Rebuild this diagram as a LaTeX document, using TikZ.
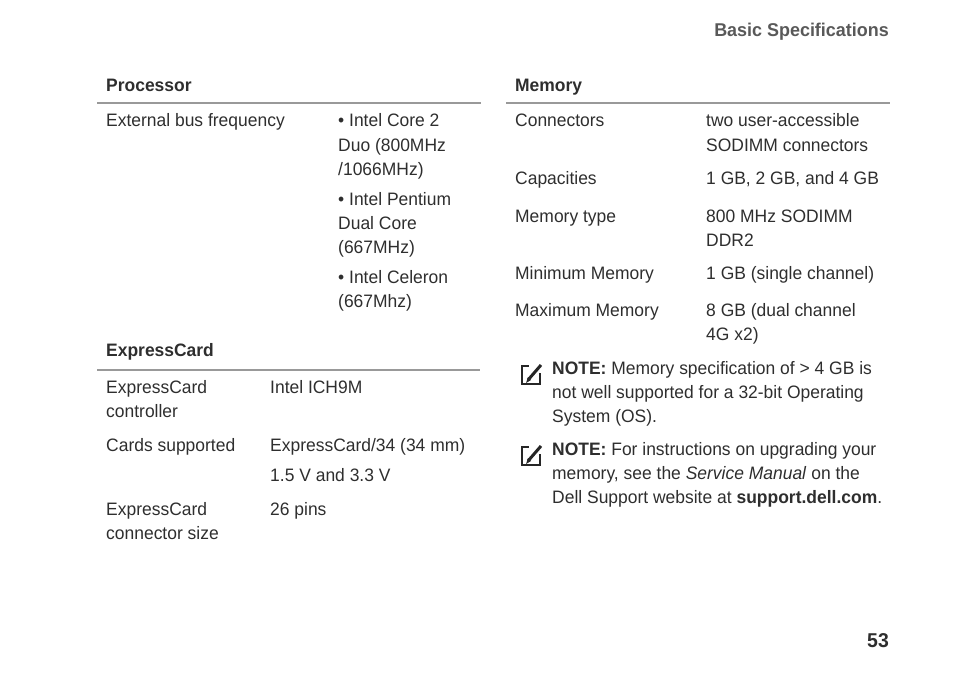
\documentclass[tikz,border=0pt]{standalone}
\usepackage{fontspec}
\setmainfont{Liberation Sans}[FakeStretch=0.97]
\begin{document}
\begin{tikzpicture}[x=1pt,y=-1pt,
  t/.style={anchor=base west,inner sep=0pt,text=black!82,font=\fontsize{18}{20}\selectfont},
  h/.style={t,font=\fontsize{18}{20}\selectfont\bfseries},
  rule/.style={draw=black!40,line width=1.2pt}]
\useasboundingbox (0,0) rectangle (954,677);
\node[t,anchor=base east,text=black!65,font=\fontsize{18.5}{20}\selectfont\bfseries] (hd) at (889,37) {Basic Specifications};
\node[t,anchor=base east,font=\fontsize{20}{22}\selectfont\bfseries] (pg) at (889,647) {53};
% Processor
\node[h] (p) at (106,92) {Processor};
\coordinate (p1) at (97,103); \coordinate (p2) at (481,103);
\draw[rule] (p1) -- (p2);
\node[t] (ebf) at (106,127) {External bus frequency};
\foreach \y/\s in {127/{• Intel Core 2},151/{Duo (800MHz},175/{/1066MHz)},205/{• Intel Pentium},229/{Dual Core},253/{(667MHz)},283/{• Intel Celeron},307/{(667Mhz)}}
  \node[t] at (338,\y) {\s};
% ExpressCard
\node[h] (e) at (106,356) {ExpressCard};
\coordinate (e1) at (97,370); \coordinate (e2) at (480,370);
\draw[rule] (e1) -- (e2);
\foreach \y/\s in {393/{ExpressCard},417/{controller},451/{Cards supported},515/{ExpressCard},539/{connector size}}
  \node[t] at (106,\y) {\s};
\foreach \y/\s in {393/{Intel ICH9M},451/{ExpressCard/34 (34 mm)},481/{1.5 V and 3.3 V},515/{26 pins}}
  \node[t] at (270,\y) {\s};
% Memory
\node[h] (m) at (515,92) {Memory};
\coordinate (m1) at (506,103); \coordinate (m2) at (890,103);
\draw[rule] (m1) -- (m2);
\foreach \y/\s in {127/{Connectors},184/{Capacities},222/{Memory type},279/{Minimum Memory},316/{Maximum Memory}}
  \node[t] at (515,\y) {\s};
\foreach \y/\s in {127/{two user-accessible},151/{SODIMM connectors},184/{1 GB, 2 GB, and 4 GB},222/{800 MHz SODIMM},246/{DDR2},279/{1 GB (single channel)},316/{8 GB (dual channel},340/{4G x2)}}
  \node[t] at (706,\y) {\s};
% notes
\foreach \y in {364,445}{
  \draw[black!85,line width=1.2pt] (522,\y+2) rectangle (540,\y+20);
  \fill[white] (529,\y) rectangle (542,\y+9);
  \draw[black!85,line width=3pt] (541,\y+1) -- (528,\y+16);
  \fill[black!85] (526,\y+19) -- (528,\y+13) -- (531,\y+16) -- cycle;
}
\node[t] (n1) at (552,374) {\textbf{NOTE:} Memory specification of > 4 GB is};
\node[t] at (552,398) {not well supported for a 32-bit Operating};
\node[t] at (552,422) {System (OS).};
\node[t] (n2) at (552,455) {\textbf{NOTE:} For instructions on upgrading your};
\node[t] at (552,479) {memory, see the \textit{Service Manual} on the};
\node[t] at (552,503) {Dell Support website at \textbf{support.dell.com}.};
\end{tikzpicture}
\end{document}
